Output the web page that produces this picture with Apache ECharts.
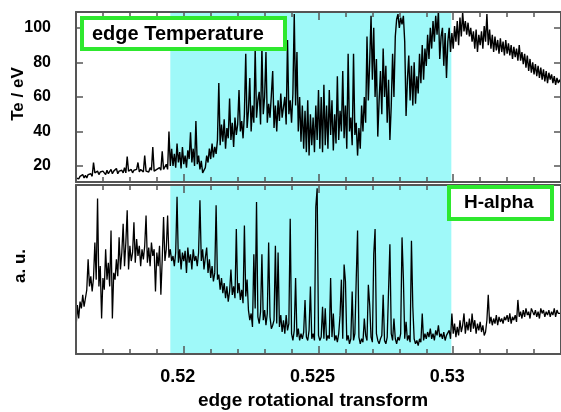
<!DOCTYPE html>
<html>
<head>
<meta charset="utf-8">
<script src="https://cdn.jsdelivr.net/npm/echarts@6/dist/echarts.min.js"></script>
<style>
html,body{margin:0;padding:0;background:#fff;}
#c{width:561px;height:412px;}
</style>
</head>
<body>
<div id="c"></div>
<script>
// sample grid of the traces (edge rotational transform)
const xStart = 0.516;
const xStep = 0.00005;

// edge temperature Te / eV, one value per sample
const teValues = [
  13,14,12.5,14,13.5,15,13,14.5,13,15,
  14,15.5,14,22,16,15.5,17,15,16.5,15.5,
  17,16,15,17.5,15.5,16,18,15.5,17,16,
  18.5,15.5,17,16,17.5,16,19,16,25.5,17,
  16.5,18,16,17.5,16.5,18,22,16.5,18,17,
  16.5,26,17,18,16.5,19,17.5,31,17,18,
  18,17,19,17.5,28.5,18,17,21,18,40,
  20,30,20,27,19,33,22,28,18.5,31,
  21,26,19,29,24,39.5,22,30,20,46,
  21,26,18,23,16,17,19,26,22,30,
  24,33,25,31,27,35,68,32,44,34,
  47,30,42,36,59,35,45,31,48,38,
  44,64,40,46,36,50,85,42,52,71,
  40,55,45,88,48,58,63,44,89,50,
  60,86,45,56,48,61,75,42,55,40,
  58,46,62,48,48,60,44,93,50,58,
  45,62,108,55,86,40,60,34,55,30,
  52,28,58,26,50,32,48,28,55,35,
  64,30,60,28,67,32,55,30,64,38,
  58,29,50,33,72,35,52,40,75,36,
  55,30,85,40,48,32,85,38,45,26,
  42,30,55,40,60,45,95,58,80,107,
  70,100,60,82,37,58,75,50,88,60,
  78,45,70,35,55,85,60,95,105,108,
  100,106,102,107,92,49,70,84,58,78,
  55,80,56,72,62,85,68,90,70,88,
  78,96,82,100,88,104,92,107,96,110,
  82,95,100,78,97,71,92,100,86,97,
  88,101,92,104,90,106,95,109,98,104,
  96,103,95,100,92,98,88,99,86,96,
  90,98,88,101,92,108,90,99,88,96,
  86,95,87,93,85,94,86,92,84,93,
  85,91,84,90,82,89,83,88,81,90,
  81,86,79,85,77,84,75,82,74,80,
  73,79,72,78,71,77,70,76,69,75,
  68,74,70,73,68,72,67,71,68,70,
  68
];

// H-alpha signal, arbitrary units (0 = panel bottom, 100 = panel top)
const haValues = [
  15,29,21,31,27,35,28,33,38,56,
  40,46,37,45,66,44,92,40,52,21,
  45,38,62,44,54,40,73,21,48,44,
  56,46,69,50,60,77,52,66,85,50,
  64,55,60,78,54,68,58,64,52,62,
  56,64,82,54,63,52,66,58,62,37,
  60,52,64,35,56,81,55,62,82,57,
  62,55,58,52,60,93,54,62,50,60,
  55,61,48,63,54,59,50,62,55,58,
  52,60,91,55,62,50,57,63,48,56,
  45,52,43,48,88,44,47,38,45,36,
  42,33,40,31,37,50,35,40,33,74,
  36,42,32,38,30,76,34,44,26,20,
  24,16,59,27,90,22,18,25,59,20,
  26,17,24,66,22,15,17,20,64,18,
  60,16,23,13,20,12,23,14,18,80,
  12,8,14,45,10,15,8,12,9,13,
  32,10,8,14,40,9,12,8,87,98,
  11,8,10,28,9,27,8,11,9,45,
  10,24,8,11,7,12,23,44,9,53,
  43,8,11,6,9,37,8,12,44,73,
  10,6,9,7,21,11,8,41,29,10,
  7,59,74,12,8,6,9,11,35,8,
  6,10,9,65,12,8,21,9,6,10,
  8,12,69,45,9,19,8,11,7,67,
  28,9,6,8,5,9,7,24,8,12,
  9,13,10,15,9,12,8,14,11,17,
  10,12,9,13,8,11,10,14,9,24,
  12,18,10,16,11,20,13,17,24,12,
  19,14,21,13,24,15,20,12,18,14,
  19,13,17,11,13,20,35,18,22,17,
  21,18,23,17,22,19,21,18,22,20,
  23,19,24,18,22,20,23,19,32,22,
  25,21,26,22,27,23,25,21,27,28,
  23,26,22,25,21,27,24,26,22,25,
  23,26,22,25,23,27,22,26,24,25,
  24
];

const xMajorTicks = [0.52, 0.525, 0.53];
const xMinorTicks = [0.517,0.518,0.519,0.521,0.522,0.523,0.524,0.526,0.527,0.528,0.529,0.531,0.532,0.533];
const teTicks = [20, 40, 60, 80, 100];
const shadeRange = [0.5195, 0.52993];
const xRange = [0.516, 0.534];
const teRange = [10.7, 109.2];
const haRange = [0, 100];

const teData = teValues.map((v, i) => [xStart + i * xStep, v]);
const haData = haValues.map((v, i) => [xStart + i * xStep, v]);

const FRAME = '#555555';
const FONT = 'Liberation Sans, Arial, sans-serif';

function xAx(grid, pos, major, labels) {
  return {
    type: 'value', gridIndex: grid, position: pos,
    min: xRange[0], max: xRange[1], z: 6,
    axisLine: { show: major, onZero: false, lineStyle: { color: FRAME, width: 2 } },
    axisTick: { show: true, inside: true, length: major ? 8 : 5,
      customValues: major ? xMajorTicks : xMinorTicks,
      lineStyle: { color: FRAME, width: 1.5 } },
    axisLabel: labels ? {
      show: true, customValues: xMajorTicks, margin: 14,
      formatter: v => String(+v.toFixed(4)),
      color: '#000', fontFamily: FONT, fontWeight: 'bold', fontSize: 18,
      padding: [0, 12, 0, 0]
    } : { show: false },
    splitLine: { show: false }
  };
}

const option = {
  animation: false,
  backgroundColor: '#fff',
  grid: [
    { left: 76, top: 12, width: 487, height: 170, show: false },
    { left: 76, top: 185, width: 487, height: 169, show: false }
  ],
  xAxis: [
    xAx(0, 'bottom', true, false), xAx(0, 'bottom', false, false),
    xAx(0, 'top', true, false), xAx(0, 'top', false, false),
    xAx(1, 'bottom', true, true), xAx(1, 'bottom', false, false),
    xAx(1, 'top', true, false), xAx(1, 'top', false, false)
  ],
  yAxis: [
    { type: 'value', gridIndex: 0, position: 'left', min: teRange[0], max: teRange[1], z: 6,
      axisLine: { show: true, lineStyle: { color: FRAME, width: 2 } },
      axisTick: { show: true, inside: true, length: 7, customValues: teTicks, lineStyle: { color: FRAME, width: 1.5 } },
      axisLabel: { show: true, customValues: teTicks, margin: 25, color: '#000',
        fontFamily: FONT, fontWeight: 'bold', fontSize: 16 },
      splitLine: { show: false } },
    { type: 'value', gridIndex: 0, position: 'right', min: teRange[0], max: teRange[1], z: 6,
      axisLine: { show: true, lineStyle: { color: FRAME, width: 2 } },
      axisTick: { show: true, inside: true, length: 7, customValues: teTicks, lineStyle: { color: FRAME, width: 1.5 } },
      axisLabel: { show: false }, splitLine: { show: false } },
    { type: 'value', gridIndex: 1, position: 'left', min: haRange[0], max: haRange[1], z: 6,
      axisLine: { show: true, lineStyle: { color: FRAME, width: 2 } },
      axisTick: { show: false }, axisLabel: { show: false }, splitLine: { show: false } },
    { type: 'value', gridIndex: 1, position: 'right', min: haRange[0], max: haRange[1], z: 6,
      axisLine: { show: true, lineStyle: { color: FRAME, width: 2 } },
      axisTick: { show: false }, axisLabel: { show: false }, splitLine: { show: false } }
  ],
  series: [
    { type: 'line', xAxisIndex: 0, yAxisIndex: 0, data: teData, z: 1, silent: true,
      symbol: 'none', lineStyle: { opacity: 0 },
      markArea: { silent: true, itemStyle: { color: '#9ff9f9' },
        data: [[{ xAxis: shadeRange[0] }, { xAxis: shadeRange[1] }]] } },
    { type: 'line', xAxisIndex: 4, yAxisIndex: 2, data: haData, z: 1, silent: true,
      symbol: 'none', lineStyle: { opacity: 0 },
      markArea: { silent: true, itemStyle: { color: '#9ff9f9' },
        data: [[{ xAxis: shadeRange[0] }, { xAxis: shadeRange[1] }]] } },
    { name: 'edge Temperature', type: 'line', xAxisIndex: 0, yAxisIndex: 0, data: teData, z: 4,
      symbol: 'none', clip: true, lineStyle: { color: '#000', width: 1.4 } },
    { name: 'H-alpha', type: 'line', xAxisIndex: 4, yAxisIndex: 2, data: haData, z: 4,
      symbol: 'none', clip: true, lineStyle: { color: '#000', width: 1.3 } }
  ],
  graphic: [
    { type: 'rect', z: 10, shape: { x: 82, y: 18, width: 203, height: 31 },
      style: { fill: '#fff', stroke: '#2ee82e', lineWidth: 4 } },
    { type: 'text', z: 11, x: 92, y: 34,
      style: { text: 'edge Temperature', fill: '#000', font: 'bold 20px ' + FONT,
        textAlign: 'left', textVerticalAlign: 'middle' } },
    { type: 'rect', z: 10, shape: { x: 449, y: 187, width: 103, height: 32 },
      style: { fill: '#fff', stroke: '#2ee82e', lineWidth: 4 } },
    { type: 'text', z: 11, x: 464, y: 203,
      style: { text: 'H-alpha', fill: '#000', font: 'bold 19px ' + FONT,
        textAlign: 'left', textVerticalAlign: 'middle' } },
    { type: 'text', z: 11, x: 18, y: 94, rotation: Math.PI / 2,
      style: { text: 'Te / eV', fill: '#000', font: 'bold 17px ' + FONT,
        textAlign: 'center', textVerticalAlign: 'middle' } },
    { type: 'text', z: 11, x: 20, y: 266, rotation: Math.PI / 2,
      style: { text: 'a. u.', fill: '#000', font: 'bold 17px ' + FONT,
        textAlign: 'center', textVerticalAlign: 'middle' } },
    { type: 'text', z: 11, x: 313, y: 401,
      style: { text: 'edge rotational transform', fill: '#000', font: 'bold 19px ' + FONT,
        textAlign: 'center', textVerticalAlign: 'middle' } }
  ]
};

const chart = echarts.init(document.getElementById('c'), null, { renderer: 'canvas' });
chart.setOption(option);
</script>
</body>
</html>
